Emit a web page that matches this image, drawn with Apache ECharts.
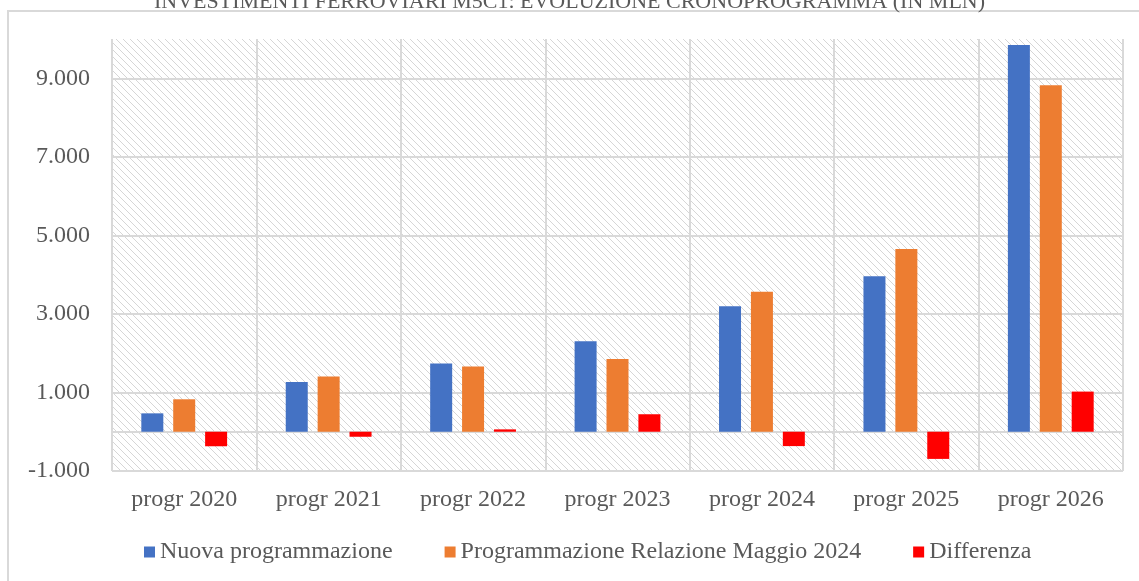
<!DOCTYPE html>
<html>
<head>
<meta charset="utf-8">
<script src="https://cdn.jsdelivr.net/npm/echarts@6/dist/echarts.min.js"></script>
<style>
  html, body { margin: 0; padding: 0; background: #fff; }
  #chart { width: 1139px; height: 581px; }
</style>
</head>
<body>
<div id="chart"></div>
<script>
// dati (valori in milioni)
const categories = ['progr 2020', 'progr 2021', 'progr 2022', 'progr 2023', 'progr 2024', 'progr 2025', 'progr 2026'];
const nuova = [468, 1269, 1739, 2302, 3197, 3962, 9846];
const relazione = [826, 1407, 1662, 1852, 3565, 4654, 8824];
const differenza = [-370, -128, 60, 445, -366, -692, 1022];
const yTicks = [-1000, 0, 1000, 3000, 5000, 7000, 9000];
const yLabels = [-1000, 1000, 3000, 5000, 7000, 9000];

const serif = '"Liberation Serif", "Times New Roman", serif';
const grey = '#595959';
const lineGrey = '#d9d9d9';

// sfondo tratteggiato dell'area del grafico
const hatch = document.createElement('canvas');
hatch.width = 7;
hatch.height = 7;
const hctx = hatch.getContext('2d');
hctx.fillStyle = '#fff';
hctx.fillRect(0, 0, 7, 7);
hctx.strokeStyle = '#d6d6d6';
hctx.lineWidth = 1;
hctx.beginPath();
hctx.moveTo(-1, -1); hctx.lineTo(8, 8);
hctx.moveTo(-1, 6); hctx.lineTo(1, 8);
hctx.moveTo(6, -1); hctx.lineTo(8, 1);
hctx.stroke();

function fmt(v) {
  return String(v).replace(/\B(?=(\d{3})+(?!\d))/g, '.');
}

const myChart = echarts.init(document.getElementById('chart'));
myChart.setOption({
  animation: false,
  backgroundColor: '#fff',
  title: {
    text: 'INVESTIMENTI FERROVIARI M5C1: EVOLUZIONE CRONOPROGRAMMA (IN MLN)',
    left: 'center',
    top: -14,
    textStyle: { fontFamily: serif, fontSize: 22, fontWeight: 'normal', color: grey }
  },
  graphic: [{
    type: 'rect',
    z: -10,
    shape: { x: 8, y: 11, width: 1200, height: 620 },
    style: { fill: 'none', stroke: lineGrey, lineWidth: 2 }
  }],
  legend: {
    data: ['Nuova programmazione', 'Programmazione Relazione Maggio 2024', 'Differenza'],
    left: 139,
    top: 535,
    itemWidth: 11,
    itemHeight: 11,
    itemGap: 52,
    icon: 'rect',
    textStyle: { fontFamily: serif, fontSize: 24, color: grey }
  },
  grid: {
    left: 112,
    right: 16,
    top: 39,
    bottom: 110,
    show: true,
    borderWidth: 0,
    backgroundColor: { image: hatch, repeat: 'repeat' }
  },
  xAxis: {
    type: 'category',
    data: categories,
    axisLine: { show: false, onZero: false },
    axisTick: { show: false },
    splitLine: { show: true, lineStyle: { color: lineGrey, width: 2 } },
    axisLabel: { margin: 17, fontFamily: serif, fontSize: 24, color: grey }
  },
  yAxis: {
    type: 'value',
    min: -1000,
    max: 10000,
    interval: 1000,
    axisLine: { show: false },
    axisTick: { show: false },
    splitLine: { show: false },
    axisLabel: {
      margin: 22,
      fontFamily: serif,
      fontSize: 24,
      color: grey,
      formatter: v => (yLabels.indexOf(v) >= 0 ? fmt(v) : '')
    }
  },
  series: [
    {
      name: 'griglia',
      type: 'line',
      data: [],
      z: 1,
      silent: true,
      markLine: {
        z: 1,
        silent: true,
        symbol: 'none',
        label: { show: false },
        lineStyle: { color: lineGrey, width: 2, type: 'solid' },
        data: yTicks.map(v => ({ yAxis: v }))
      }
    },
    { name: 'Nuova programmazione', type: 'bar', data: nuova, barWidth: 22, barGap: '45%', itemStyle: { color: '#4472C4' }, z: 3 },
    { name: 'Programmazione Relazione Maggio 2024', type: 'bar', data: relazione, barWidth: 22, barGap: '45%', itemStyle: { color: '#ED7D31' }, z: 3 },
    { name: 'Differenza', type: 'bar', data: differenza, barWidth: 22, barGap: '45%', itemStyle: { color: '#FF0000' }, z: 3 }
  ]
});
</script>
</body>
</html>
